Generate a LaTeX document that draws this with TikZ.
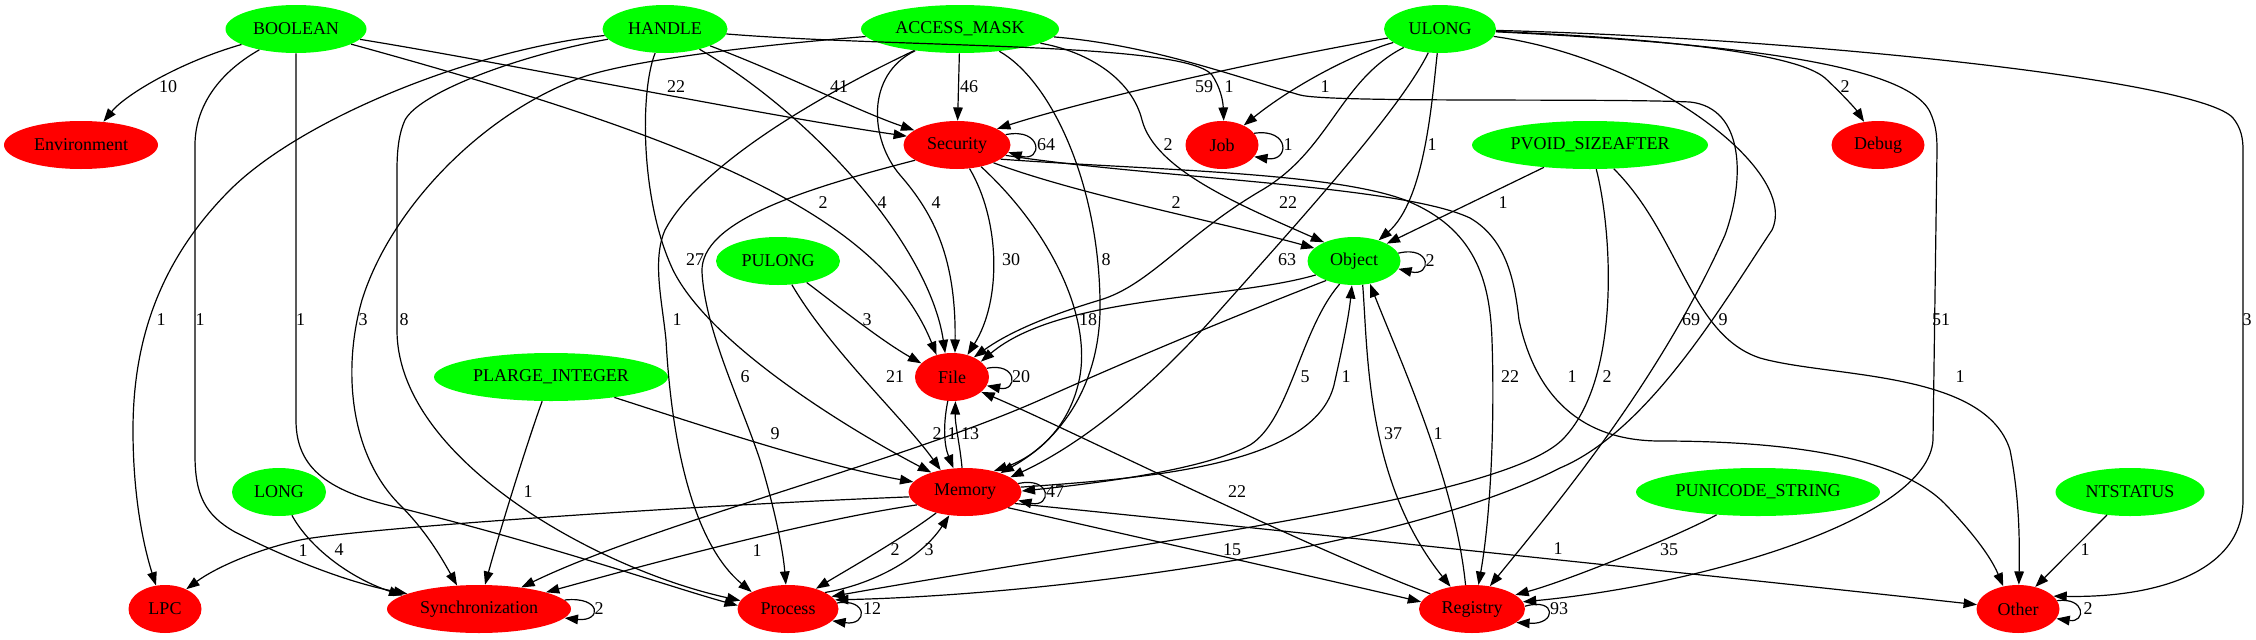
\documentclass[tikz,border=0pt]{standalone}
\usepackage{fontspec}
\setmainfont{Liberation Serif}
\usetikzlibrary{shapes.geometric,arrows.meta}
\definecolor{gvg}{RGB}{0,255,0}
\definecolor{gvr}{RGB}{255,0,0}
\begin{document}
\begin{tikzpicture}[x=0.75pt,y=-0.75pt,
  nd/.style={ellipse, draw=none, minimum height=36pt, inner sep=0pt, font=\fontsize{13.5}{16}\selectfont},
  tn/.style={nd, fill=gvg},
  cn/.style={nd, fill=gvr},
  wd/.style={minimum width=#1*0.75pt},
  e/.style={draw=black, line width=0.9pt, -{Triangle[length=10pt,width=7.2pt]}},
  lb/.style={font=\fontsize{13.5}{16}\selectfont, inner sep=0pt}]
\useasboundingbox (0,0) rectangle (2256,639);
% nodes
\node[tn,wd=141] (BOOLEAN) at (296,29) {BOOLEAN};
\node[tn,wd=125] (HANDLE) at (665,29) {HANDLE};
\node[tn,wd=198] (ACCESS) at (960,29) {ACCESS\_MASK};
\node[tn,wd=112] (ULONG) at (1440,29) {ULONG};
\node[cn,wd=154] (Env) at (81,145) {Environment};
\node[cn,wd=107] (Sec) at (957,145) {Security};
\node[cn,wd=73] (Job) at (1222,145) {Job};
\node[tn,wd=236] (PVOID) at (1590,145) {PVOID\_SIZEAFTER};
\node[cn,wd=93] (Debug) at (1878,145) {Debug};
\node[tn,wd=124] (PULONG) at (778,261) {PULONG};
\node[tn,wd=93] (Obj) at (1354,261) {Object};
\node[tn,wd=234] (PLARGE) at (551,377) {PLARGE\_INTEGER};
\node[cn,wd=74] (File) at (952,377) {File};
\node[tn,wd=94] (LONG) at (279,492) {LONG};
\node[cn,wd=113] (Mem) at (965,492) {Memory};
\node[tn,wd=244] (PUNI) at (1758,492) {PUNICODE\_STRING};
\node[tn,wd=149] (NTS) at (2130,492) {NTSTATUS};
\node[cn,wd=73] (LPC) at (165,609) {LPC};
\node[cn,wd=184] (Sync) at (479,609) {Synchronization};
\node[cn,wd=101] (Proc) at (788,609) {Process};
\node[cn,wd=106] (Reg) at (1472,609) {Registry};
\node[cn,wd=83] (Other) at (2018,609) {Other};
% BOOLEAN
\draw[e] (BOOLEAN) .. controls (180,62) and (125,95) .. (Env.46);
\draw[e] (BOOLEAN) .. controls (215,75) and (195,110) .. (195,145) -- (195,455) .. controls (195,495) and (205,515) .. (235,532) .. controls (290,560) and (350,583) .. (Sync.168);
\draw[e] (BOOLEAN) -- (296,420) .. controls (296,470) and (330,492) .. (400,508) .. controls (550,545) and (680,590) .. (Proc.176);
\draw[e] (BOOLEAN) .. controls (500,62) and (760,115) .. (Sec.170);
\draw[e] (BOOLEAN) .. controls (700,140) and (880,215) .. (File.125);
% HANDLE
\draw[e] (HANDLE) .. controls (470,50) and (300,120) .. (230,190) .. controls (160,260) and (133,340) .. (133,430) .. controls (133,510) and (148,560) .. (LPC.111);
\draw[e] (HANDLE) .. controls (520,55) and (420,92) .. (405,120) .. controls (399,133) and (397,150) .. (397,170) -- (397,330) .. controls (397,460) and (600,570) .. (Proc.170);
\draw[e] (HANDLE) .. controls (640,90) and (640,200) .. (673,270) .. controls (710,345) and (850,430) .. (Mem.150);
\draw[e] (HANDLE) .. controls (780,72) and (860,112) .. (Sec.161);
\draw[e] (HANDLE) .. controls (820,120) and (930,250) .. (File.106);
\draw[e] (HANDLE) .. controls (900,48) and (1185,42) .. (1212,75) .. controls (1220,87) and (1223,100) .. (Job.86);
% ACCESS_MASK
\draw[e] (ACCESS) -- (Sec);
\draw[e] (ACCESS) .. controls (865,75) and (870,140) .. (900,175) .. controls (935,215) and (956,260) .. (File.83);
\draw[e] (ACCESS) .. controls (1050,80) and (1098,180) .. (1100,300) .. controls (1102,385) and (1060,440) .. (Mem.28);
\draw[e] (ACCESS) .. controls (820,95) and (700,165) .. (665,230) .. controls (652,260) and (662,300) .. (666,340) .. controls (672,450) and (695,545) .. (Proc.155);
\draw[e] (ACCESS) .. controls (760,45) and (630,60) .. (580,78) .. controls (480,115) and (390,210) .. (362,300) .. controls (342,370) and (350,455) .. (400,505) .. controls (425,530) and (440,555) .. (Sync.133);
\draw[e] (ACCESS) .. controls (1090,52) and (1132,80) .. (1142,120) .. controls (1155,170) and (1240,205) .. (Obj.148);
\draw[e] (ACCESS) .. controls (1150,45) and (1230,75) .. (1300,95) .. controls (1330,103) and (1600,98) .. (1690,102) .. controls (1745,108) and (1745,180) .. (1725,235) .. controls (1660,380) and (1560,500) .. (Reg.52);
% ULONG
\draw[e] (ULONG) .. controls (1250,62) and (1080,102) .. (Sec.22);
\draw[e] (ULONG) .. controls (1350,55) and (1290,88) .. (Job.42);
\draw[e] (ULONG) .. controls (1650,38) and (1795,52) .. (1825,78) .. controls (1840,92) and (1855,108) .. (Debug.121);
\draw[e] (ULONG) .. controls (1432,100) and (1425,200) .. (Obj.40);
\draw[e] (ULONG) .. controls (1340,80) and (1330,150) .. (1262,190) .. controls (1185,235) and (1150,285) .. (1100,300) .. controls (1040,318) and (1005,335) .. (File.42);
\draw[e] (ULONG) .. controls (1400,110) and (1300,220) .. (1220,310) .. controls (1150,390) and (1080,445) .. (Mem.18);
\draw[e] (ULONG) .. controls (1650,58) and (1800,170) .. (1772,230) .. controls (1725,300) and (1650,430) .. (1560,468) .. controls (1400,550) and (1050,595) .. (Proc.11);
\draw[e] (ULONG) .. controls (1700,42) and (1905,60) .. (1930,112) .. controls (1936,125) and (1937,135) .. (1937,150) -- (1933,440) .. controls (1928,520) and (1700,585) .. (Reg.8);
\draw[e] (ULONG) .. controls (1800,38) and (2200,80) .. (2233,118) .. controls (2241,128) and (2243,138) .. (2243,150) -- (2243,500) .. controls (2243,575) and (2150,598) .. (Other.20);
% Job, Security
\draw[e] (Job.20) .. controls (1290,128) and (1290,162) .. (Job.340);
\draw[e] (Sec.12) .. controls (1043,127) and (1043,163) .. (Sec.352);
\draw[e] (Sec.334) .. controls (1080,195) and (1220,222) .. (Obj.162);
\draw[e] (Sec.298) .. controls (1000,220) and (1002,300) .. (File.55);
\draw[e] (Sec.318) .. controls (1050,230) and (1095,320) .. (1078,385) .. controls (1068,425) and (1040,455) .. (Mem.36);
\draw[e] (Sec.200) .. controls (800,190) and (700,222) .. (702,272) .. controls (705,330) and (740,400) .. (760,460) .. controls (775,510) and (783,550) .. (Proc.95);
\draw[e] (Sec.342) .. controls (1150,170) and (1330,172) .. (1405,200) .. controls (1475,228) and (1490,280) .. (1492,340) .. controls (1495,430) and (1490,520) .. (Reg.75);
\draw[e] (Sec.348) .. controls (1150,178) and (1400,185) .. (1470,218) .. controls (1508,240) and (1515,285) .. (1519,320) .. controls (1535,395) and (1580,441) .. (1660,441) .. controls (1780,441) and (1900,455) .. (1947,506) .. controls (1970,530) and (1990,555) .. (Other.123);
% PVOID
\draw[e] (PVOID) -- (Obj.28);
\draw[e] (PVOID) .. controls (1612,230) and (1622,380) .. (1562,440) .. controls (1500,500) and (1150,540) .. (Proc.16);
\draw[e] (PVOID) .. controls (1680,235) and (1690,335) .. (1760,358) .. controls (1830,378) and (1985,370) .. (2010,450) .. controls (2018,490) and (2020,530) .. (Other.88);
% PULONG
\draw[e] (PULONG) .. controls (830,300) and (880,340) .. (File.156);
\draw[e] (PULONG) .. controls (830,350) and (905,420) .. (Mem.138);
% Object
\draw[e] (Obj.10) .. controls (1432,245) and (1432,277) .. (Obj.350);
\draw[e] (Obj.238) .. controls (1300,330) and (1290,420) .. (1250,445) .. controls (1200,472) and (1080,485) .. (Mem.1);
\draw[e] (Mem.5) .. controls (1150,478) and (1314,465) .. (1334,385) .. controls (1343,345) and (1349,315) .. (Obj.265);
\draw[e] (Obj.290) .. controls (1368,350) and (1365,480) .. (Reg.134);
\draw[e] (Reg.105) .. controls (1455,480) and (1400,360) .. (Obj.305);
\draw[e] (Obj.200) .. controls (1230,300) and (1060,295) .. (File.28);
\draw[e] (Obj.215) .. controls (1250,310) and (1140,355) .. (1040,400) .. controls (900,462) and (650,525) .. (Sync.27);
% PLARGE_INTEGER
\draw[e] (PLARGE) .. controls (528,440) and (500,530) .. (Sync.76);
\draw[e] (PLARGE) .. controls (700,425) and (820,465) .. (Mem.169);
% File, Memory
\draw[e] (File.14) .. controls (1018,362) and (1018,392) .. (File.346);
\draw[e] (File.260) .. controls (943,425) and (944,445) .. (Mem.116);
\draw[e] (Mem.97) .. controls (960,445) and (955,425) .. (File.278);
\draw[e] (Mem.9) .. controls (1052,476) and (1052,508) .. (Mem.351);
\draw[e] (Mem.185) .. controls (700,505) and (360,528) .. (300,540) .. controls (255,550) and (215,568) .. (LPC.43);
\draw[e] (LONG) .. controls (310,548) and (350,578) .. (Sync.170);
\draw[e] (Mem.195) .. controls (800,522) and (620,572) .. (Sync.14);
\draw[e] (Mem.216) .. controls (900,540) and (850,568) .. (Proc.36);
\draw[e] (Proc.24) .. controls (870,585) and (920,560) .. (Mem.236);
\draw[e] (Mem.340) .. controls (1150,540) and (1350,585) .. (Reg.172);
\draw[e] (Mem.347) .. controls (1200,522) and (1800,585) .. (Other.174);
\draw[e] (Proc.7) .. controls (868,598) and (868,626) .. (Proc.345);
% bottom row
\draw[e] (PUNI) .. controls (1680,535) and (1570,580) .. (Reg.18);
\draw[e] (Reg.3) .. controls (1557,597) and (1557,625) .. (Reg.343);
\draw[e] (NTS) -- (Other.52);
\draw[e] (Other.12) .. controls (2086,597) and (2086,623) .. (Other.346);
\draw[e] (Reg.160) .. controls (1300,545) and (1060,425) .. (File.333);
\draw[e] (Sync.6) .. controls (602,596) and (602,622) .. (Sync.354);
% labels
\node[lb] (l1) at (168,87) {10};
\node[lb] (l2) at (676,87) {22};
\node[lb] (l3) at (839,87) {41};
\node[lb] (l4) at (969,87) {46};
\node[lb] (l5) at (1204,87) {59};
\node[lb] (l6) at (1229,87) {1};
\node[lb] (l7) at (1325,87) {1};
\node[lb] (l8) at (1845,87) {2};
\node[lb] (l9) at (1046,145) {64};
\node[lb] (l10) at (1168,145) {2};
\node[lb] (l11) at (1288,145) {1};
\node[lb] (l12) at (1432,145) {1};
\node[lb] (l13) at (823,203) {2};
\node[lb] (l14) at (882,203) {4};
\node[lb] (l15) at (936,203) {4};
\node[lb] (l16) at (1176,203) {2};
\node[lb] (l17) at (1288,203) {22};
\node[lb] (l18) at (1503,203) {1};
\node[lb] (l19) at (695,260) {27};
\node[lb] (l20) at (1011,260) {30};
\node[lb] (l21) at (1106,260) {8};
\node[lb] (l22) at (1287,260) {63};
\node[lb] (l23) at (1430,261) {2};
\node[lb] (l24) at (161,320) {1};
\node[lb] (l25) at (200,320) {1};
\node[lb] (l26) at (300.5,320) {1};
\node[lb] (l27) at (363,320) {3};
\node[lb] (l28) at (404,320) {8};
\node[lb] (l29) at (677,320) {1};
\node[lb] (l30) at (867,320) {3};
\node[lb] (l31) at (1088,320) {18};
\node[lb] (l32) at (1691,320) {69};
\node[lb] (l33) at (1723,320) {9};
\node[lb] (l34) at (1941,320) {51};
\node[lb] (l35) at (2247,320) {3};
\node[lb] (l36) at (745,377) {6};
\node[lb] (l37) at (895,377) {21};
\node[lb] (l38) at (1021,377) {20};
\node[lb] (l39) at (1305,377) {5};
\node[lb] (l40) at (1346,377) {1};
\node[lb] (l41) at (1510,377) {22};
\node[lb] (l42) at (1572,377) {1};
\node[lb] (l43) at (1607,377) {2};
\node[lb] (l44) at (1960,377) {1};
\node[lb] (l45) at (775,434) {9};
\node[lb] (l46) at (937,434) {2};
\node[lb] (l47) at (952,434) {1};
\node[lb] (l48) at (970,434) {13};
\node[lb] (l49) at (1393,434) {37};
\node[lb] (l50) at (1438,434) {1};
\node[lb] (l51) at (528,492) {1};
\node[lb] (l52) at (1055,492) {47};
\node[lb] (l53) at (1237,492) {22};
\node[lb] (l54) at (303,551) {1};
\node[lb] (l55) at (339,550) {4};
\node[lb] (l56) at (757,551) {1};
\node[lb] (l57) at (895,550) {2};
\node[lb] (l58) at (929,550) {3};
\node[lb] (l59) at (1232,550) {15};
\node[lb] (l60) at (1558,549) {1};
\node[lb] (l61) at (1669,550) {35};
\node[lb] (l62) at (2085,550) {1};
\node[lb] (l63) at (599,609) {2};
\node[lb] (l64) at (872,609) {12};
\node[lb] (l65) at (1559,609) {93};
\node[lb] (l66) at (2088,609) {2};
\end{tikzpicture}
\end{document}
